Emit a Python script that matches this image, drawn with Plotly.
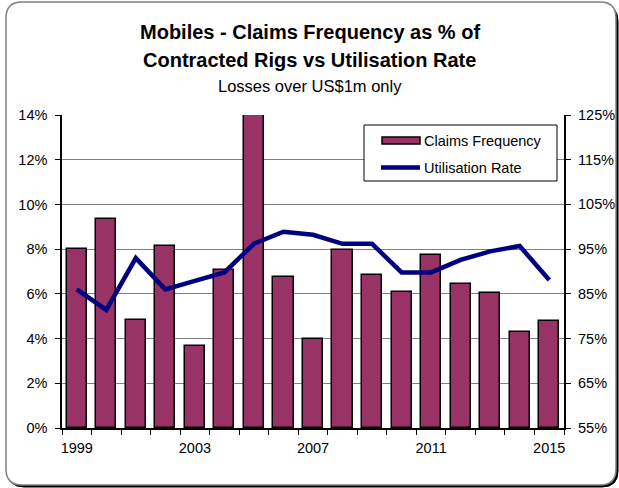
import plotly.graph_objects as go

# Annual figures, 1999-2015
years = list(range(1999, 2016))
claims_frequency = [8.0, 9.33, 4.84, 8.15, 3.68, 7.05, 15.5, 6.74, 3.98,
                    7.97, 6.86, 6.07, 7.75, 6.45, 6.04, 4.31, 4.80]
utilisation_rate = [86.0, 81.4, 93.0, 86.0, 87.9, 89.8, 96.2, 98.9, 98.2,
                    96.2, 96.2, 89.8, 89.8, 92.6, 94.5, 95.7, 88.1]
year_labels = [1999, 2003, 2007, 2011, 2015]
left_ticks = [0, 2, 4, 6, 8, 10, 12, 14]
right_ticks = [55, 65, 75, 85, 95, 105, 115, 125]

W, H = 619, 488
ML, MR, MT, MB = 62, 55, 115, 60
PW, PH = W - ML - MR, H - MT - MB

FONT = "Liberation Sans, Arial, sans-serif"
BAR_COLOR = "#993366"
LINE_COLOR = "#000080"


def px(x):
    return (x - ML) / PW


def py(y):
    return (H - MB - y) / PH


def rounded_path(x0, y0, x1, y1, r):
    pts = [
        f"M {px(x0 + r)},{py(y0)}",
        f"L {px(x1 - r)},{py(y0)}",
        f"Q {px(x1)},{py(y0)} {px(x1)},{py(y0 + r)}",
        f"L {px(x1)},{py(y1 - r)}",
        f"Q {px(x1)},{py(y1)} {px(x1 - r)},{py(y1)}",
        f"L {px(x0 + r)},{py(y1)}",
        f"Q {px(x0)},{py(y1)} {px(x0)},{py(y1 - r)}",
        f"L {px(x0)},{py(y0 + r)}",
        f"Q {px(x0)},{py(y0)} {px(x0 + r)},{py(y0)}",
        "Z",
    ]
    return " ".join(pts)


fig = go.Figure()

fig.add_trace(go.Bar(
    x=years, y=claims_frequency, name="Claims Frequency",
    width=0.68, marker=dict(color=BAR_COLOR, line=dict(color="black", width=1.5)),
    showlegend=False, yaxis="y",
))
fig.add_trace(go.Scatter(
    x=years, y=utilisation_rate, name="Utilisation Rate", mode="lines",
    line=dict(color=LINE_COLOR, width=4.5), showlegend=False, yaxis="y2",
))

shapes = [
    # frame with shadow
    dict(type="path", xref="paper", yref="paper", layer="below",
         path=rounded_path(8, 5, 618, 487, 16), fillcolor="black",
         line=dict(color="black", width=1)),
    dict(type="path", xref="paper", yref="paper", layer="below",
         path=rounded_path(6, 2, 616, 485, 16), fillcolor="white",
         line=dict(color="#808080", width=1.5)),
    # legend box
    dict(type="rect", xref="paper", yref="paper",
         x0=px(364), x1=px(557), y0=py(181), y1=py(125),
         fillcolor="white", line=dict(color="black", width=1)),
    dict(type="rect", xref="paper", yref="paper",
         x0=px(382), x1=px(420), y0=py(144), y1=py(137),
         fillcolor=BAR_COLOR, line=dict(color="black", width=1.5)),
    dict(type="line", xref="paper", yref="paper",
         x0=px(381), x1=px(420), y0=py(167.5), y1=py(167.5),
         line=dict(color=LINE_COLOR, width=4.5)),
]

annotations = [
    dict(text="<b>Mobiles - Claims Frequency as % of</b>", x=0.5, xref="paper",
         xshift=(W / 2 - (ML + PW / 2)), y=py(32), yref="paper",
         showarrow=False, font=dict(size=20, family=FONT, color="black"),
         xanchor="center", yanchor="middle"),
    dict(text="<b>Contracted Rigs vs Utilisation Rate</b>", x=0.5, xref="paper",
         xshift=(W / 2 - (ML + PW / 2)), y=py(60), yref="paper",
         showarrow=False, font=dict(size=20, family=FONT, color="black"),
         xanchor="center", yanchor="middle"),
    dict(text="Losses over US$1m only", x=0.5, xref="paper",
         xshift=(W / 2 - (ML + PW / 2)), y=py(86), yref="paper",
         showarrow=False, font=dict(size=16.5, family=FONT, color="black"),
         xanchor="center", yanchor="middle"),
    dict(text="Claims Frequency", x=px(422), y=py(141), xref="paper", yref="paper",
         showarrow=False, xanchor="left", yanchor="middle",
         font=dict(size=14.5, family=FONT, color="black")),
    dict(text="Utilisation Rate", x=px(422), y=py(168), xref="paper", yref="paper",
         showarrow=False, xanchor="left", yanchor="middle",
         font=dict(size=14.5, family=FONT, color="black")),
]

# right-hand axis labels, placed on the y2 scale
for v in right_ticks:
    annotations.append(dict(
        text=f"{v}%", x=1, xref="paper", xshift=12, y=v, yref="y2",
        showarrow=False, xanchor="left", yanchor="middle",
        font=dict(size=14.5, family=FONT, color="black"),
    ))

fig.update_layout(
    width=W, height=H,
    margin=dict(l=ML, r=MR, t=MT, b=MB, pad=0, autoexpand=False),
    paper_bgcolor="white", plot_bgcolor="rgba(0,0,0,0)",
    font=dict(family=FONT, size=14, color="black"),
    shapes=shapes, annotations=annotations,
    bargap=0,
    xaxis=dict(
        range=[1998.5, 2015.5], tickmode="array", tickvals=year_labels,
        ticktext=[str(y) for y in year_labels], ticks="", showgrid=False,
        showline=True, linecolor="black", linewidth=1.5, zeroline=False,
        tickfont=dict(size=14.5), ticklabelstandoff=6, automargin=False,
        minor=dict(tickmode="array", tickvals=[1998.5 + i for i in range(18)],
                   ticks="outside", ticklen=5, tickcolor="black", showgrid=False),
    ),
    yaxis=dict(
        range=[0, 14], tickmode="array", tickvals=left_ticks,
        ticktext=[f"{v}%" for v in left_ticks],
        ticks="outside", ticklen=5, tickcolor="black", showline=True,
        linecolor="black", linewidth=1.5, showgrid=True, gridcolor="#808080",
        gridwidth=1, zeroline=False, tickfont=dict(size=14.5),
        ticklabelstandoff=5, automargin=False,
    ),
    yaxis2=dict(
        range=[55, 125], tickmode="array", tickvals=right_ticks,
        showticklabels=False,
        overlaying="y", side="right", ticks="outside", ticklen=5,
        tickcolor="black", showline=True, linecolor="black", linewidth=1.5,
        showgrid=False, zeroline=False, automargin=False,
    ),
)

fig.write_html("out.html")
